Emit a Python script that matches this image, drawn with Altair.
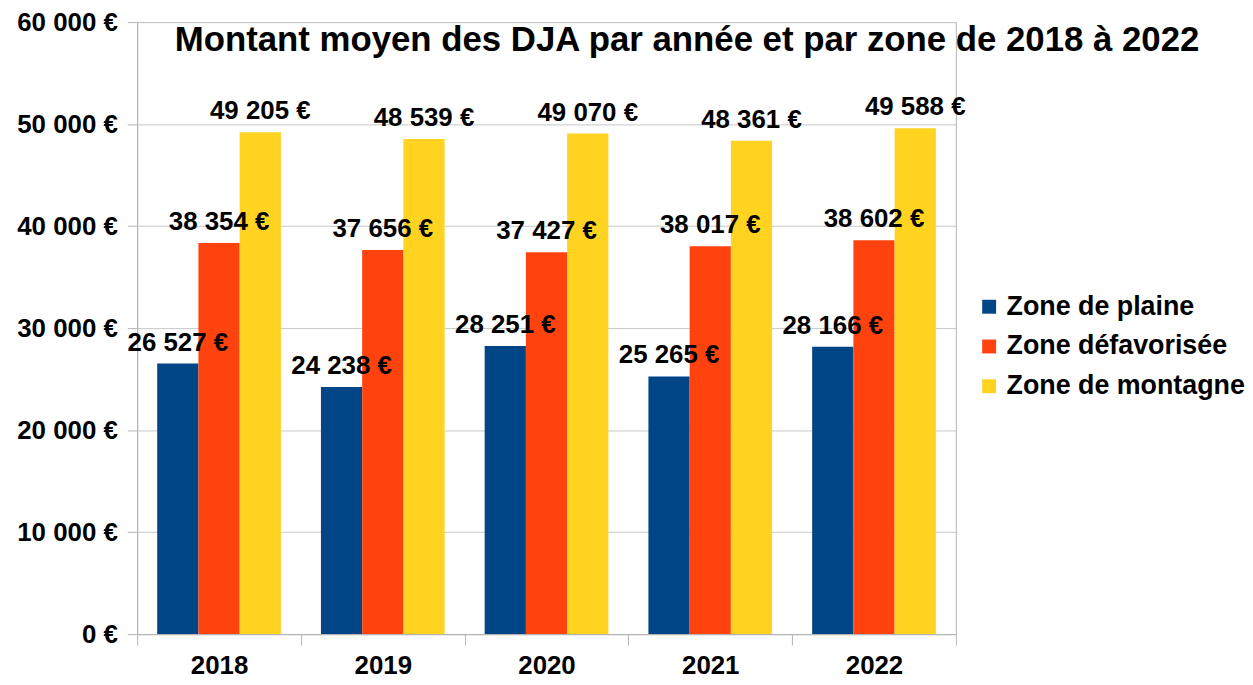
import altair as alt
import pandas as pd

years = ["2018", "2019", "2020", "2021", "2022"]
zones = ["Zone de plaine", "Zone défavorisée", "Zone de montagne"]
plaine = [26527, 24238, 28251, 25265, 28166]
defavorisee = [38354, 37656, 37427, 38017, 38602]
montagne = [49205, 48539, 49070, 48361, 49588]
colors = ["#004586", "#ff420e", "#ffd320"]
y_ticks = [0, 10000, 20000, 30000, 40000, 50000, 60000]

rows = []
for zone, vals in zip(zones, [plaine, defavorisee, montagne]):
    for yr, v in zip(years, vals):
        rows.append({"annee": yr, "zone": zone, "montant": v,
                     "label": f"{v:,}".replace(",", " ") + " €"})
df = pd.DataFrame(rows)

FONT = "Liberation Sans"
W = "bold"

x = alt.X("annee:N", sort=years, title=None,
          scale=alt.Scale(paddingInner=0, paddingOuter=0),
          axis=alt.Axis(labelAngle=0, labelFont=FONT, labelFontSize=26,
                        labelFontWeight=W,
                        labelColor="black", labelPadding=8, tickSize=11,
                        tickBand="extent", domainColor="#b3b3b3",
                        tickColor="#b3b3b3", grid=False))
xoff = alt.XOffset("zone:N", sort=zones,
                   scale=alt.Scale(paddingInner=0, paddingOuter=0.486))
y = alt.Y("montant:Q", title=None,
          scale=alt.Scale(domain=[0, 60000], nice=False),
          axis=alt.Axis(values=y_ticks, labelFont=FONT, labelFontSize=26,
                        labelFontWeight=W,
                        labelColor="black", labelPadding=10, tickSize=10,
                        domainColor="#b3b3b3", tickColor="#b3b3b3",
                        gridColor="#c8c8c8",
                        labelExpr="datum.value == 0 ? '0 €' : (datum.value / 1000) + ' 000 €'"))
color = alt.Color("zone:N", sort=zones,
                  scale=alt.Scale(domain=zones, range=colors),
                  legend=alt.Legend(title=None, orient="none", legendX=844,
                                    legendY=273, symbolType="square",
                                    symbolSize=196, symbolStrokeWidth=0,
                                    labelFont=FONT, labelFontSize=27,
                                    labelFontWeight=W, labelLimit=0,
                                    labelColor="black", rowPadding=12,
                                    labelOffset=4, padding=0))

bars = alt.Chart(df).mark_bar().encode(x=x, xOffset=xoff, y=y, color=color)
labels = alt.Chart(df).mark_text(font=FONT, fontSize=26, fontWeight=W,
                                 color="black",
                                 baseline="alphabetic", dy=-13).encode(
    x=alt.X("annee:N", sort=years), xOffset=alt.XOffset("zone:N", sort=zones),
    y="montant:Q", text="label:N")

chart = alt.layer(bars, labels).properties(
    width=824, height=616,
    title=alt.TitleParams(
        text="Montant moyen des DJA par année et par zone de 2018 à 2022",
        font=FONT, fontSize=35, fontWeight="bold", color="black",
        anchor="start", orient="top", offset=0, baseline="alphabetic",
        dx=159, dy=77),
    autosize=alt.AutoSizeParams(type="none"),
    padding={"left": 130, "top": 12, "right": 291, "bottom": 44},
).configure_view(stroke="#b3b3b3")

chart.save("out.html", embed_options={"renderer": "svg", "actions": False})
